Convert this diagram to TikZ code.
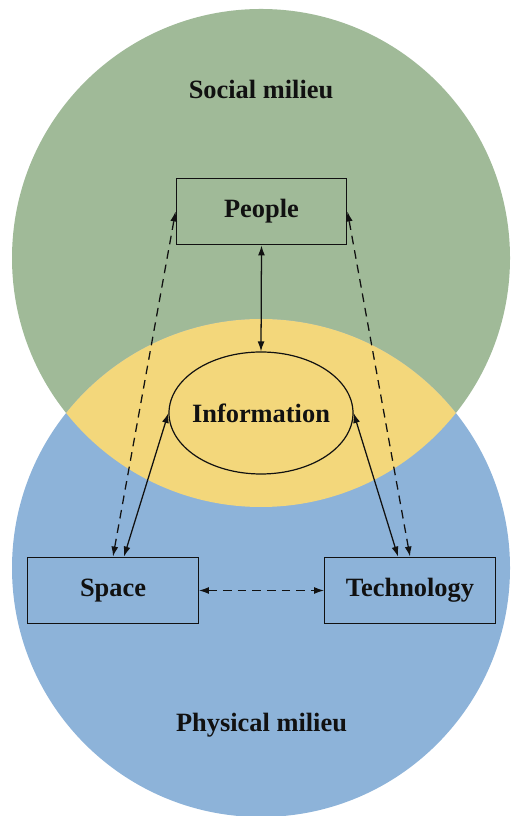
\documentclass[tikz,border=0pt]{standalone}
\usepackage{fontspec}
\setmainfont{Liberation Serif}
\usetikzlibrary{arrows.meta,calc,positioning,shapes.geometric}
\definecolor{mlSocial}{HTML}{A0BA98}
\definecolor{mlPhysical}{HTML}{8DB3D9}
\definecolor{mlShared}{HTML}{F3D77B}
\definecolor{mlInk}{HTML}{111111}
\tikzset{
  ml label/.style={font=\bfseries\fontsize{19.8}{24}\selectfont, text=mlInk},
  ml box/.style={
    ml label,
    draw=mlInk,
    line width=.9pt,
    rectangle,
    minimum width=128pt,
    minimum height=50pt,
    inner sep=0pt
  },
  ml hub/.style={
    ml label,
    draw=mlInk,
    line width=.9pt,
    ellipse,
    minimum width=138pt,
    minimum height=91.5pt,
    inner xsep=-4pt,
    inner ysep=0pt
  },
  ml link/.style={
    draw=mlInk,
    line width=.95pt,
    {Latex[length=7.5pt,width=5.2pt]}-{Latex[length=7.5pt,width=5.2pt]}
  },
  ml link dashed/.style={
    ml link,
    dash pattern=on 6.5pt off 4.5pt
  }
}

\begin{document}
\begin{tikzpicture}[x=.75pt,y=.75pt]
  \useasboundingbox (0,0) rectangle (511,816);

  % the two milieus and their overlap
  \fill[mlSocial] (261,558) circle [radius=249];
  \fill[mlPhysical] (261,248) circle [radius=249];
  \begin{scope}
    \clip (261,558) circle [radius=249];
    \fill[mlShared] (261,248) circle [radius=249];
  \end{scope}

  \node[ml label] (social) at (261,726) {Social milieu};
  \node[ml label] (physical) at (261.5,91) {Physical milieu};

  % the four elements
  \node[ml box] (people) at (261.5,604.5) {People};
  \node[ml hub] (info) at (261,403) {Information};
  \node[ml box] (space) at (113,225.5) {Space};
  \node[ml box] (tech) at (410,225.5) {Technology};

  % links
  \draw[ml link] (people.south) -- (info.north);
  \draw[ml link] ([xshift=8.25pt]space.north) -- (info.west);
  \draw[ml link] ([xshift=-9pt]tech.north) -- (info.east);
  \draw[ml link dashed] (space.north) -- (people.west);
  \draw[ml link dashed] (tech.north) -- (people.east);
  \draw[ml link dashed] (space.east) -- (tech.west);
\end{tikzpicture}
\end{document}
